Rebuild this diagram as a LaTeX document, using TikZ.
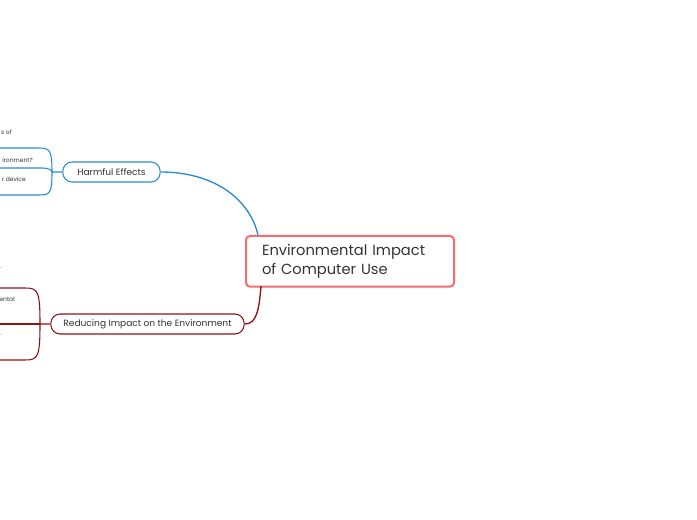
\documentclass[tikz,border=0pt]{standalone}
\usepackage{fontspec}
\setmainfont{Poppins}
\definecolor{rootred}{HTML}{F46D6D}
\definecolor{harmblue}{HTML}{2B8AD4}
\definecolor{reddark}{HTML}{8E1414}
\definecolor{inkgray}{HTML}{333333}
\begin{document}
\begin{tikzpicture}[x=0.75pt, y=-0.75pt,
    rootbox/.style={draw=rootred, line width=1.5pt, rounded corners=3pt, fill=white,
      text width=132pt, minimum height=38pt, align=left, text=inkgray,
      font=\fontsize{11}{14.5}\selectfont, inner xsep=12pt},
    pill/.style={rounded corners=7pt, line width=0.8pt, fill=white, text=inkgray,
      minimum height=15pt, inner xsep=9pt, font=\fontsize{6.8}{7.5}\selectfont},
    leaf/.style={anchor=east, inner sep=0pt, text=inkgray, font=\fontsize{4.5}{5}\selectfont}]
  \useasboundingbox[fill=white] (0,0) rectangle (697,520);
  \node[rootbox, anchor=north west] (root) at (245,235)
    {Environmental Impact\\of Computer Use};
  \node[pill, draw=harmblue, minimum width=73pt] (harm) at (111.5,172) {Harmful Effects};
  \node[pill, draw=reddark, minimum width=145pt] (reduce) at (147.5,324)
    {Reducing Impact on the Environment};
  % main branches
  \draw[harmblue, line width=1pt] (harm.east) .. controls (215,172) and (250,200) .. (258,235);
  \draw[reddark, line width=1pt] (261,286) .. controls (259,312) and (256,324) .. (reduce.east);
  % harmful effects fork
  \draw[harmblue, line width=0.8pt] (harm.west) -- (52,172)
    .. controls (52,150) and (50,148) .. (38,148) -- (0,148);
  \draw[harmblue, line width=0.8pt] (0,168) -- (42,168) .. controls (48,168) and (52,170) .. (52,172);
  \draw[harmblue, line width=0.8pt] (52,172)
    .. controls (52,194) and (50,195) .. (38,195) -- (0,195);
  % reducing fork
  \draw[reddark, line width=0.8pt] (reduce.west) -- (40,324)
    .. controls (40,291) and (38,288) .. (25,288) -- (0,288);
  \draw[reddark, line width=0.8pt] (0,324) -- (40,324);
  \draw[reddark, line width=0.8pt] (40,324)
    .. controls (40,357) and (38,360) .. (25,360) -- (0,360);
  % cut-off leaf texts
  \node[leaf] (l1) at (12,132) {s of};
  \node[leaf] (l2) at (33,160) {ironment?};
  \node[leaf] (l3) at (26,179) {r device};
  \node[leaf] (l4) at (2,268) {.};
  \node[leaf] (l5) at (15,299) {ental};
  \node[leaf] (l6) at (2,335) {.};
\end{tikzpicture}
\end{document}
